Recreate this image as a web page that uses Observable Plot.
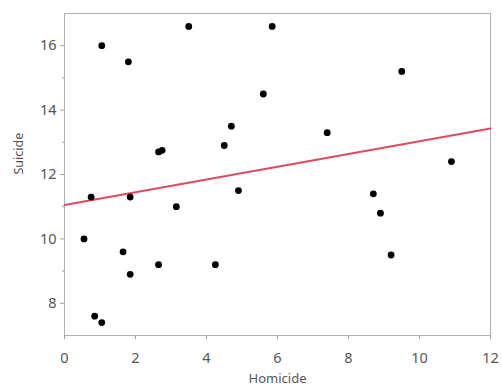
<!DOCTYPE html>
<html>
<head>
<meta charset="utf-8">
<script src="https://cdn.jsdelivr.net/npm/d3@7"></script>
<script src="https://cdn.jsdelivr.net/npm/@observablehq/plot@0.6"></script>
<style>
  html, body { margin: 0; padding: 0; background: #fff; }
  #chart { width: 502px; height: 388px; }
</style>
</head>
<body>
<div id="chart"></div>
<script>
const homicide = [1.05, 1.8, 3.5, 5.85, 9.5, 5.6, 4.7, 4.5, 2.65, 2.75, 7.4, 10.9, 4.9, 0.75, 1.85, 3.15, 8.7, 8.9, 9.2, 0.55, 1.65, 1.85, 2.65, 4.25, 0.85, 1.05];
const suicide  = [16.0, 15.5, 16.6, 16.6, 15.2, 14.5, 13.5, 12.9, 12.7, 12.75, 13.3, 12.4, 11.5, 11.3, 11.3, 11.0, 11.4, 10.8, 9.5, 10.0, 9.6, 8.9, 9.2, 9.2, 7.6, 7.4];
const fitX = [0, 12];
const fitY = [11.05, 13.43];
const xTicks = [0, 2, 4, 6, 8, 10, 12];
const yTicks = [8, 10, 12, 14, 16];
const yMinor = [9, 11, 13, 15];

const points = homicide.map((h, i) => ({homicide: h, suicide: suicide[i]}));
const fit = fitX.map((x, i) => ({x, y: fitY[i]}));

const grey = "#a0a0a0";
const chart = Plot.plot({
  width: 502,
  height: 388,
  marginLeft: 64,
  marginRight: 12,
  marginTop: 13,
  marginBottom: 53,
  style: {fontFamily: "'Noto Sans', 'Open Sans', sans-serif", fontSize: "14px", color: "#555", background: "#fff"},
  x: {type: "linear", domain: [0, 12]},
  y: {type: "linear", domain: [7, 17]},
  marks: [
    Plot.frame({stroke: "#b0b0b0"}),
    Plot.axisX({ticks: xTicks, tickSize: 4, tickPadding: 13, stroke: grey, fill: "#555", fontSize: 14.5, label: null}),
    Plot.axisY({ticks: yTicks, tickSize: 4, tickPadding: 4, stroke: grey, fill: "#555", fontSize: 14.5, label: null}),
    Plot.axisY({ticks: yMinor, tickSize: 2, text: null, stroke: grey, label: null}),
    Plot.text(["Homicide"], {frameAnchor: "bottom", dy: 47, fontSize: 13, fill: "#555"}),
    Plot.text(["Suicide"], {frameAnchor: "left", dx: -46, rotate: -90, fontSize: 12.5, fill: "#555"}),
    Plot.line(fit, {x: "x", y: "y", stroke: "#de4a5e", strokeWidth: 2}),
    Plot.dot(points, {x: "homicide", y: "suicide", r: 3.4, fill: "#000", stroke: "none"})
  ]
});
document.getElementById("chart").append(chart);
</script>
</body>
</html>
